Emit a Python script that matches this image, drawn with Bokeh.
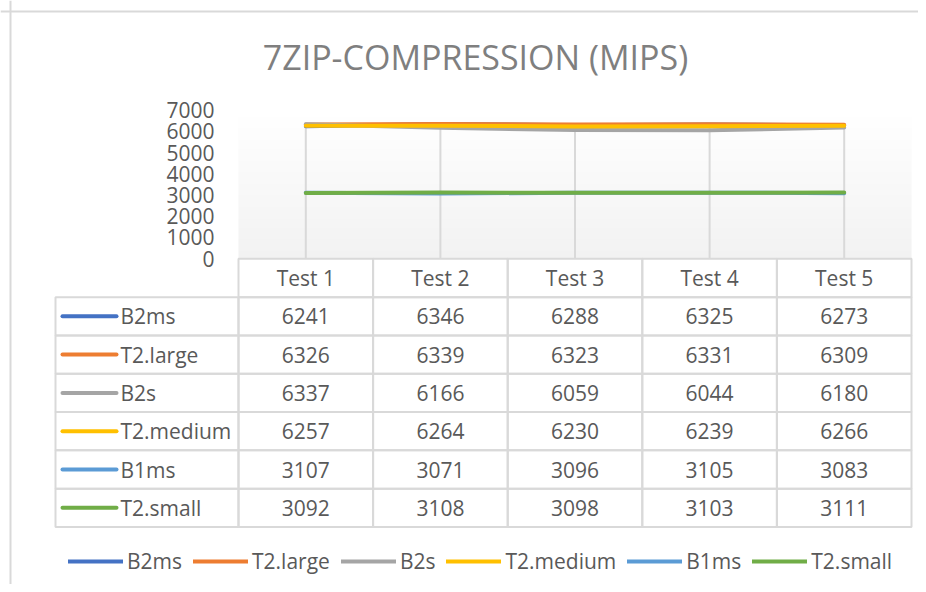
from bokeh.plotting import figure
from bokeh.models import (Range1d, LinearAxis, FixedTicker, Legend, LegendItem,
                          Label, Span)
from bokeh.embed import file_html
from bokeh.resources import INLINE
from bokeh.core.properties import value
import numpy as np

# ---------------- data ----------------
categories = ["Test 1", "Test 2", "Test 3", "Test 4", "Test 5"]
series_names = ["B2ms", "T2.large", "B2s", "T2.medium", "B1ms", "T2.small"]
b2ms = [6241, 6346, 6288, 6325, 6273]
t2_large = [6326, 6339, 6323, 6331, 6309]
b2s = [6337, 6166, 6059, 6044, 6180]
t2_medium = [6257, 6264, 6230, 6239, 6266]
b1ms = [3107, 3071, 3096, 3105, 3083]
t2_small = [3092, 3108, 3098, 3103, 3111]
y_ticks = [0, 1000, 2000, 3000, 4000, 5000, 6000, 7000]
title_text = "7ZIP-COMPRESSION (MIPS)"

series_values = [b2ms, t2_large, b2s, t2_medium, b1ms, t2_small]
colors = ["#4472C4", "#ED7D31", "#A5A5A5", "#FFC000", "#5B9BD5", "#70AD47"]

# ---------------- layout constants (page pixels) ----------------
W, H = 918, 584
ORG = 0                       # canvas origin on the page
PX0, COLW = 238.0, 134.6      # plot-area left edge, column width
Y0, KY = 258.0, 21.2 / 1000   # page y of value 0, px per unit
ROW0, ROWH = 277.5, 38.3      # header row centre, row height
LBL_LEFT = 55.0

def xcol(px):
    return (px - PX0) / COLW

FONT = "Open Sans"
TXT = "#595959"
GRID = "#d9d9d9"

p = figure(width=W, height=H, output_backend="svg", toolbar_location=None,
           x_axis_location=None, y_axis_location=None, min_border=0,
           x_range=Range1d(xcol(ORG), xcol(ORG + W)),
           y_range=Range1d((Y0 - (ORG + H)) / KY, (Y0 - ORG) / KY),
           outline_line_color=None, background_fill_color="white",
           border_fill_color="white")
p.xgrid.visible = False
p.ygrid.visible = False
p.extra_x_ranges = {"px": Range1d(ORG, ORG + W)}
p.extra_y_ranges = {"px": Range1d(ORG + H, ORG),
                    "tbl": Range1d((ORG + H - ROW0) / ROWH, (ORG - ROW0) / ROWH)}

# chart frame borders
p.add_layout(Span(location=10, dimension="height", x_range_name="px",
                  line_color=GRID, line_width=2))
p.add_layout(Span(location=11, dimension="width", y_range_name="px",
                  line_color=GRID, line_width=2))

# plot area gradient background
n = len(categories)
grad = np.zeros((64, 1), dtype=np.uint32)
view = grad.view(dtype=np.uint8).reshape((64, 1, 4))
for i in range(64):
    t = i / 63.0
    c = int(round(242 + (255 - 242) * t))
    view[i, 0, :] = [c, c, c, 255]
p.image_rgba(image=[grad], x=0, y=0, dw=n, dh=y_ticks[-1])

xc = [i + 0.5 for i in range(n)]

# drop lines
tops = [max(s[i] for s in series_values) for i in range(n)]
p.segment(x0=xc, y0=[0] * n, x1=xc, y1=tops, line_color=GRID, line_width=2)

# series lines
items = []
for name, vals, col in zip(series_names, series_values, colors):
    r = p.line(x=xc, y=vals, line_color=col, line_width=4, line_cap="round",
               line_join="round")
    items.append(LegendItem(label=name, renderers=[r]))

# y axis at the plot-area left edge
yax = LinearAxis(fixed_location=0, ticker=FixedTicker(ticks=y_ticks),
                 axis_line_color=None, major_tick_line_color=None,
                 minor_tick_line_color=None, major_tick_in=0, major_tick_out=0,
                 major_label_standoff=24,
                 major_label_text_font=FONT, major_label_text_font_size="21px",
                 major_label_text_color=TXT)
p.add_layout(yax, "left")

# ---------------- data table ----------------
nrow = len(series_names)
# header cells
p.quad(left=list(range(n)), right=list(range(1, n + 1)),
       top=[-0.5] * n, bottom=[0.5] * n, y_range_name="tbl",
       fill_color=None, line_color=GRID, line_width=2)
# label cells
lbl_l = xcol(LBL_LEFT)
rows = list(range(1, nrow + 1))
p.quad(left=[lbl_l] * nrow, right=[0] * nrow,
       top=[r - 0.5 for r in rows], bottom=[r + 0.5 for r in rows],
       y_range_name="tbl", fill_color=None, line_color=GRID, line_width=2)
# value cells
cl, cr, ct, cb, vx, vy, vt = [], [], [], [], [], [], []
for ri, vals in enumerate(series_values):
    for ci, v in enumerate(vals):
        cl.append(ci); cr.append(ci + 1)
        ct.append(ri + 0.5); cb.append(ri + 1.5)
        vx.append(ci + 0.5); vy.append(ri + 1); vt.append(str(v))
p.quad(left=cl, right=cr, top=ct, bottom=cb, y_range_name="tbl",
       fill_color=None, line_color=GRID, line_width=2)

p.text(x=xc, y=[0] * n, text=categories, y_range_name="tbl",
       text_align="center", text_baseline="middle", text_font=value(FONT),
       text_font_size="21px", text_color=TXT)
p.text(x=vx, y=vy, text=vt, y_range_name="tbl",
       text_align="center", text_baseline="middle", text_font=value(FONT),
       text_font_size="21px", text_color=TXT)

# legend keys in table
p.segment(x0=[xcol(62)] * nrow, x1=[xcol(116)] * nrow, y0=rows, y1=rows,
          y_range_name="tbl", line_color=colors, line_width=4, line_cap="round")
p.text(x=[xcol(120)] * nrow, y=rows, text=series_names, y_range_name="tbl",
       text_align="left", text_baseline="middle", text_font=value(FONT),
       text_font_size="21px", text_color=TXT)

# title
p.add_layout(Label(x=475, y=56, x_range_name="px", y_range_name="px",
                   text=title_text, text_align="center", text_baseline="middle",
                   text_font=FONT, text_font_size="34px", text_color="#7f7f7f"))

# bottom legend
legend = Legend(items=items, orientation="horizontal",
                location=(68 - ORG, ORG + H - 575),
                label_text_font=FONT, label_text_font_size="21px",
                label_text_color=TXT, glyph_width=55, glyph_height=20,
                label_standoff=4, spacing=11, padding=0, margin=0,
                border_line_color=None, background_fill_alpha=0)
p.add_layout(legend, "center")

open("out.html", "w").write(file_html(p, INLINE))
